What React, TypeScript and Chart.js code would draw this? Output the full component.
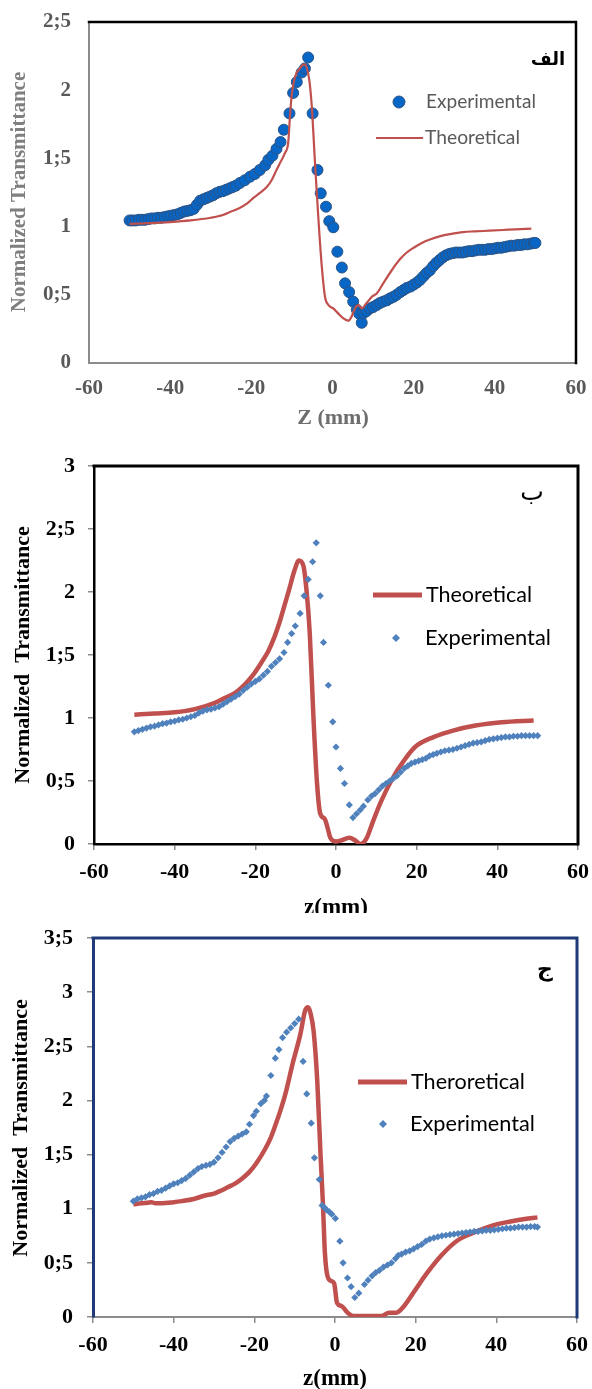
import React, { useEffect, useRef } from 'react';
import { Chart, registerables } from 'chart.js';

Chart.register(...registerables);

// ---------- Panel الف ----------
const A_EXP_Z = [-50, -49.3, -48.5, -47.7, -47, -46.2, -45.4, -44.6, -43.8, -43, -42.2, -41.4, -40.6, -39.8, -39, -38.2, -37.4, -36.6, -35.8, -35, -34.2, -33.4, -32.6, -31.8, -31, -30.2, -29.4, -28.6, -27.8, -27, -26.2, -25.4, -24.6, -23.8, -22.8, -21.6, -20.3, -19.1, -17.9, -16.6, -15.8, -14.8, -13.8, -12.8, -12.0, -10.6, -9.7, -8.8, -7.6, -6.8, -6.0, -4.9, -3.7, -2.9, -1.6, -0.8, 0.2, 1.2, 2.3, 3.1, 4.1, 5.1, 6.0, 6.6, 7.2, 7.6, 8.4, 9.2, 10.0, 10.9, 11.7, 12.5, 13.4, 14.2, 15.0, 15.8, 16.7, 17.5, 18.3, 19.2, 20, 20.8, 21.6, 22.4, 23.2, 24, 24.8, 25.6, 26.4, 27.2, 28, 28.8, 29.6, 30.4, 31.2, 32, 32.8, 33.6, 34.4, 35.2, 36, 36.8, 37.6, 38.4, 39.2, 40, 40.8, 41.6, 42.4, 43.2, 44, 44.8, 45.6, 46.4, 47.2, 48, 48.8, 49.6, 50];
const A_EXP_T = [1.045, 1.045, 1.045, 1.05, 1.05, 1.05, 1.055, 1.06, 1.06, 1.065, 1.065, 1.07, 1.075, 1.08, 1.085, 1.09, 1.10, 1.11, 1.115, 1.12, 1.13, 1.16, 1.19, 1.20, 1.21, 1.22, 1.23, 1.245, 1.255, 1.26, 1.27, 1.28, 1.29, 1.30, 1.32, 1.34, 1.366, 1.386, 1.415, 1.45, 1.49, 1.52, 1.57, 1.62, 1.71, 1.83, 1.98, 2.06, 2.13, 2.16, 2.24, 1.83, 1.415, 1.244, 1.146, 1.04, 0.995, 0.816, 0.70, 0.584, 0.52, 0.45, 0.39, 0.36, 0.295, 0.364, 0.38, 0.40, 0.41, 0.425, 0.44, 0.45, 0.46, 0.474, 0.485, 0.50, 0.52, 0.535, 0.55, 0.56, 0.575, 0.59, 0.61, 0.635, 0.66, 0.68, 0.71, 0.735, 0.755, 0.775, 0.79, 0.80, 0.805, 0.81, 0.81, 0.81, 0.815, 0.82, 0.82, 0.825, 0.83, 0.83, 0.83, 0.835, 0.835, 0.84, 0.845, 0.845, 0.85, 0.855, 0.86, 0.86, 0.865, 0.865, 0.87, 0.87, 0.875, 0.88, 0.88];
const A_THEO_Z = [-50, -45, -40, -35, -30, -27, -25, -23, -21, -19.5, -18, -16.2, -15, -13.8, -12.7, -11.7, -10.9, -10.5, -10.1, -9.2, -8.0, -7.0, -6.4, -5.7, -5.1, -4.3, -3.5, -2.7, -1.85, -1.0, 0.2, 1.4, 2.7, 3.9, 4.7, 5.5, 6.4, 7.2, 8.4, 9.7, 10.9, 12.5, 14.6, 16.6, 18.3, 20, 22, 24, 26.6, 29, 32.2, 35, 38.7, 42, 45, 49];
const A_THEO_T = [1.02, 1.025, 1.033, 1.045, 1.065, 1.085, 1.11, 1.135, 1.17, 1.21, 1.245, 1.29, 1.34, 1.415, 1.48, 1.54, 1.62, 1.80, 1.95, 2.10, 2.16, 2.19, 2.17, 2.07, 1.88, 1.46, 1.07, 0.73, 0.486, 0.425, 0.40, 0.364, 0.327, 0.31, 0.34, 0.40, 0.425, 0.40, 0.44, 0.486, 0.51, 0.584, 0.68, 0.76, 0.81, 0.845, 0.88, 0.905, 0.93, 0.945, 0.96, 0.965, 0.97, 0.975, 0.98, 0.985];

// ---------- Panel ب ----------
const B_EXP_Z = [-50, -49, -48, -47, -46, -45, -44, -43, -42, -41, -40, -39, -38, -37, -36, -35, -34, -33, -32, -31, -30, -29, -28, -27, -26, -25, -24, -23, -22, -21, -20, -19, -18, -17, -16, -15, -14, -12.9, -12, -11, -10.1, -8.9, -7.9, -6.9, -5.8, -4.9, -3.9, -3.1, -1.9, -0.8, 0, 1.1, 2.1, 3.3, 4.2, 5.1, 6, 6.8, 7.9, 8.8, 9.7, 10.6, 11.5, 12.4, 13.3, 14.2, 15.1, 16, 16.9, 17.8, 18.7, 19.6, 20.5, 21.4, 22.3, 23.2, 24.1, 25, 26, 27, 28, 29, 30, 31, 32, 33, 34, 35, 36, 37, 38, 39, 40, 41, 42, 43, 44, 45, 46, 47, 48, 49, 50];
const B_EXP_T = [0.89, 0.90, 0.91, 0.92, 0.93, 0.935, 0.945, 0.955, 0.96, 0.97, 0.975, 0.985, 0.99, 1.00, 1.01, 1.02, 1.04, 1.055, 1.065, 1.07, 1.08, 1.09, 1.11, 1.13, 1.15, 1.17, 1.19, 1.22, 1.245, 1.27, 1.29, 1.31, 1.34, 1.37, 1.41, 1.44, 1.47, 1.52, 1.60, 1.67, 1.73, 1.83, 1.97, 2.10, 2.24, 2.39, 1.97, 1.60, 1.26, 0.97, 0.77, 0.60, 0.48, 0.31, 0.21, 0.24, 0.27, 0.30, 0.35, 0.38, 0.40, 0.43, 0.46, 0.48, 0.50, 0.52, 0.54, 0.57, 0.60, 0.62, 0.64, 0.65, 0.66, 0.67, 0.68, 0.70, 0.71, 0.72, 0.73, 0.74, 0.745, 0.75, 0.76, 0.77, 0.78, 0.79, 0.80, 0.805, 0.81, 0.82, 0.83, 0.835, 0.84, 0.845, 0.85, 0.85, 0.855, 0.855, 0.86, 0.86, 0.86, 0.86, 0.86];
const B_THEO_Z = [-50, -45, -40, -35, -30, -27.5, -25, -22.5, -20.6, -18.5, -16.8, -15.3, -14, -12.8, -11.7, -10.3, -9.2, -8.1, -7.3, -6.5, -5.6, -4.7, -3.9, -2.8, -2.1, -1.4, 0, 1.4, 3.3, 4.7, 6.1, 7.5, 9.3, 11.2, 14, 16.8, 19.6, 24.3, 29, 34.6, 41.1, 49];
const B_THEO_T = [1.026, 1.035, 1.045, 1.07, 1.12, 1.16, 1.20, 1.27, 1.34, 1.44, 1.53, 1.64, 1.76, 1.89, 2.01, 2.17, 2.25, 2.21, 2.01, 1.67, 1.01, 0.48, 0.24, 0.20, 0.13, 0.05, 0.02, 0.03, 0.05, 0.03, 0.0, 0.04, 0.19, 0.34, 0.52, 0.66, 0.77, 0.85, 0.90, 0.94, 0.966, 0.98];

// ---------- Panel ج ----------
const C_EXP_Z = [-50, -49, -48, -47, -46, -45, -44, -43, -42, -41, -40, -39, -38, -37, -36, -35, -34, -33, -32, -31, -30, -29, -28, -27, -26, -25, -24, -23, -22, -21.2, -20.2, -19.5, -18.4, -17.5, -17, -15.9, -14.8, -13.9, -13, -12, -11, -10, -9, -7.9, -7, -5.9, -5.1, -3.9, -3.2, -2.6, -2.1, -1.4, -0.8, 0.1, 1.2, 2, 3.1, 4, 4.9, 5.9, 7.3, 8.2, 9.2, 10.1, 11, 12, 13, 14, 15, 15.7, 16.5, 17.5, 18.5, 19.5, 20.5, 21.5, 22.5, 23.5, 24.5, 25.5, 26.5, 27.5, 28.5, 29.5, 30.5, 31.5, 32.5, 33.5, 34.5, 35.5, 36.5, 37.5, 38.5, 39.5, 40.5, 41.5, 42.5, 43.5, 44.5, 45.5, 46.5, 47.5, 48.5, 49.5, 50.2];
const C_EXP_T = [1.07, 1.09, 1.10, 1.11, 1.13, 1.14, 1.16, 1.17, 1.19, 1.21, 1.23, 1.24, 1.26, 1.28, 1.31, 1.34, 1.37, 1.39, 1.40, 1.41, 1.43, 1.47, 1.52, 1.57, 1.62, 1.65, 1.67, 1.69, 1.71, 1.78, 1.86, 1.90, 1.97, 2.00, 2.04, 2.23, 2.39, 2.47, 2.58, 2.63, 2.67, 2.71, 2.75, 2.36, 2.06, 1.79, 1.47, 1.27, 1.03, 1.01, 0.99, 0.97, 0.95, 0.91, 0.70, 0.50, 0.36, 0.28, 0.18, 0.22, 0.30, 0.34, 0.38, 0.41, 0.43, 0.46, 0.48, 0.50, 0.54, 0.57, 0.58, 0.60, 0.61, 0.63, 0.65, 0.67, 0.70, 0.72, 0.73, 0.74, 0.75, 0.755, 0.76, 0.765, 0.77, 0.775, 0.78, 0.785, 0.79, 0.79, 0.795, 0.80, 0.80, 0.805, 0.81, 0.815, 0.82, 0.82, 0.825, 0.83, 0.83, 0.83, 0.835, 0.835, 0.83];
const C_THEO_Z = [-50, -48, -46.5, -45.5, -44.5, -43, -40, -38, -35, -32.4, -30, -28.7, -26.5, -24.9, -23, -21.2, -19.5, -17.5, -16, -14.7, -13.5, -12.3, -10.5, -8.6, -7.4, -6.7, -6.1, -5.3, -4.4, -3.6, -3.0, -2.5, -1.8, -0.8, -0.2, 0.5, 1.7, 3.1, 4.5, 6.8, 9.6, 11.5, 13.4, 15.2, 17.1, 19.9, 22.7, 26.4, 30.1, 33.8, 38.6, 43.2, 47.9, 50.2];
const C_THEO_T = [1.04, 1.05, 1.055, 1.06, 1.05, 1.05, 1.06, 1.07, 1.09, 1.12, 1.14, 1.16, 1.20, 1.23, 1.28, 1.34, 1.42, 1.54, 1.65, 1.78, 1.91, 2.06, 2.34, 2.61, 2.83, 2.86, 2.81, 2.64, 2.18, 1.51, 1.05, 0.59, 0.37, 0.33, 0.31, 0.13, 0.10, 0.04, 0.01, 0.01, 0.01, 0.01, 0.04, 0.04, 0.10, 0.25, 0.40, 0.57, 0.70, 0.77, 0.84, 0.88, 0.91, 0.92];

// ---------- styling / layout ----------
const SERIF = '"Liberation Serif", "Times New Roman", serif';
const SANS = 'Lato, "Liberation Sans", sans-serif';
const ARABIC = '"DejaVu Sans", sans-serif';
const RED = '#C0504D';
const BLUE_D = '#4F81BD';

const fmt = (v: any) => String(v).replace('.', ';');
const pts = (zs: number[], ts: number[]) => zs.map((z, i) => ({ x: z, y: ts[i] }));

function fitSize(ctx: CanvasRenderingContext2D, text: string, weight: string, family: string, target: number) {
  ctx.font = `${weight} 100px ${family}`;
  return (100 * target) / ctx.measureText(text).width;
}

const zeroPad = (s: any) => {
  s.paddingTop = 0;
  s.paddingBottom = 0;
  s.paddingLeft = 0;
  s.paddingRight = 0;
};

const decoPlugin = {
  id: 'deco',
  afterDraw(chart: any, _a: any, o: any) {
    const { ctx, chartArea: a } = chart;
    ctx.save();
    // top & right frame
    ctx.strokeStyle = o.box.color;
    ctx.lineWidth = o.box.width;
    ctx.lineCap = 'square';
    ctx.beginPath();
    ctx.moveTo(a.left, a.top);
    ctx.lineTo(a.right, a.top);
    ctx.lineTo(a.right, a.bottom);
    ctx.stroke();
    // y title
    ctx.fillStyle = o.yTitle.color;
    ctx.font = o.yTitle.font;
    ctx.textAlign = 'center';
    ctx.textBaseline = 'middle';
    ctx.save();
    ctx.translate(o.yTitle.x, o.yTitle.y);
    ctx.rotate(-Math.PI / 2);
    ctx.fillText(o.yTitle.text, 0, 0);
    ctx.restore();
    // x title
    ctx.fillStyle = o.xTitle.color;
    ctx.font = o.xTitle.font;
    ctx.fillText(o.xTitle.text, o.xTitle.x, o.xTitle.y);
    // legend
    for (const it of o.legend) {
      if (it.kind === 'line') {
        ctx.strokeStyle = it.color;
        ctx.lineWidth = it.lw;
        ctx.lineCap = 'butt';
        ctx.beginPath();
        ctx.moveTo(it.mx, it.my);
        ctx.lineTo(it.mx2, it.my);
        ctx.stroke();
      } else if (it.kind === 'dot') {
        ctx.fillStyle = it.color;
        ctx.strokeStyle = it.edge;
        ctx.lineWidth = 1;
        ctx.beginPath();
        ctx.arc(it.mx, it.my, it.r, 0, Math.PI * 2);
        ctx.fill();
        ctx.stroke();
      } else {
        ctx.fillStyle = it.color;
        ctx.beginPath();
        ctx.moveTo(it.mx, it.my - it.r);
        ctx.lineTo(it.mx + it.r, it.my);
        ctx.lineTo(it.mx, it.my + it.r);
        ctx.lineTo(it.mx - it.r, it.my);
        ctx.closePath();
        ctx.fill();
      }
      const size = fitSize(ctx, it.text, 'normal', SANS, it.tw);
      ctx.font = `normal ${size}px ${SANS}`;
      ctx.fillStyle = o.legendColor;
      ctx.textAlign = 'left';
      ctx.textBaseline = 'middle';
      ctx.fillText(it.text, it.tx, it.my);
    }
    // panel tag
    ctx.fillStyle = '#000';
    ctx.font = o.tag.font;
    ctx.textAlign = 'center';
    ctx.textBaseline = 'middle';
    ctx.fillText(o.tag.text, o.tag.x, o.tag.y);
    ctx.restore();
  },
};

type PanelCfg = {
  top: number;
  height: number;
  area: { left: number; right: number; top: number; bottom: number };
  yMax: number;
  tickColor: string;
  tickFont: number;
  yPad: number;
  xPad: number;
  drawTicks: boolean;
  axisX: { color: string; width: number };
  axisY: { color: string; width: number };
  box: { color: string; width: number };
  datasets: any[];
  yTitle: any;
  xTitle: any;
  legend: any[];
  legendColor: string;
  tag: any;
};

function Panel({ cfg }: { cfg: PanelCfg }) {
  const ref = useRef<HTMLCanvasElement>(null);
  useEffect(() => {
    const off = cfg.top;
    const A = cfg.area;
    const sh = (p: any) => ({ ...p, y: p.y - off });
    const chart = new Chart(ref.current as HTMLCanvasElement, {
      type: 'scatter',
      data: { datasets: cfg.datasets },
      options: {
        animation: false,
        responsive: false,
        devicePixelRatio: 1,
        layout: { autoPadding: false, padding: { top: A.top - off, right: 592 - A.right, left: 0, bottom: 0 } },
        plugins: {
          legend: { display: false },
          tooltip: { enabled: false },
          deco: {
            box: cfg.box,
            yTitle: sh(cfg.yTitle),
            xTitle: sh(cfg.xTitle),
            legend: cfg.legend.map((l) => ({ ...l, my: l.my - off })),
            legendColor: cfg.legendColor,
            tag: sh(cfg.tag),
          },
        } as any,
        scales: {
          x: {
            type: 'linear',
            min: -60,
            max: 60,
            afterFit: (s: any) => {
              s.height = off + cfg.height - A.bottom;
              zeroPad(s);
            },
            ticks: {
              stepSize: 20,
              maxRotation: 0,
              autoSkip: false,
              padding: cfg.xPad,
              color: cfg.tickColor,
              font: { family: SERIF, size: cfg.tickFont, weight: 'bold' },
            },
            grid: { display: true, drawOnChartArea: false, drawTicks: cfg.drawTicks, tickLength: 6, color: '#8C8C8C', lineWidth: 1.5 },
            border: { display: true, color: cfg.axisX.color, width: cfg.axisX.width },
          },
          y: {
            type: 'linear',
            min: 0,
            max: cfg.yMax,
            afterFit: (s: any) => {
              s.width = A.left;
              zeroPad(s);
            },
            ticks: {
              stepSize: 0.5,
              padding: cfg.yPad,
              color: cfg.tickColor,
              font: { family: SERIF, size: cfg.tickFont, weight: 'bold' },
              callback: (v: any) => fmt(v),
            },
            grid: { display: true, drawOnChartArea: false, drawTicks: cfg.drawTicks, tickLength: 6, color: '#8C8C8C', lineWidth: 1.5 },
            border: { display: true, color: cfg.axisY.color, width: cfg.axisY.width },
          },
        },
      } as any,
      plugins: [decoPlugin as any],
    });
    return () => chart.destroy();
  }, []);
  return (
    <canvas
      ref={ref}
      width={592}
      height={cfg.height}
      style={{ position: 'absolute', left: 0, top: cfg.top, width: 592, height: cfg.height, display: 'block' }}
    />
  );
}

const expDiamond = (data: any) => ({
  label: 'Experimental',
  data,
  showLine: false,
  pointStyle: 'rectRot',
  pointRadius: 3.6,
  pointBackgroundColor: BLUE_D,
  pointBorderColor: BLUE_D,
  pointBorderWidth: 0,
  order: 0,
});
const theoLine = (label: string, data: any, w: number, order: number) => ({
  label,
  data,
  showLine: true,
  borderColor: RED,
  borderWidth: w,
  pointRadius: 0,
  cubicInterpolationMode: 'monotone',
  fill: false,
  order,
});

const PANELS: PanelCfg[] = [
  {
    top: 0,
    height: 445,
    area: { left: 89, right: 576, top: 22, bottom: 363 },
    yMax: 2.5,
    tickColor: '#595959',
    tickFont: 21,
    yPad: 18,
    xPad: 13,
    drawTicks: false,
    axisX: { color: '#8C8C8C', width: 2 },
    axisY: { color: '#8C8C8C', width: 2 },
    box: { color: '#000', width: 2.5 },
    datasets: [
      theoLine('Theoretical', pts(A_THEO_Z, A_THEO_T), 2.2, 0),
      {
        label: 'Experimental',
        data: pts(A_EXP_Z, A_EXP_T),
        showLine: false,
        pointStyle: 'circle',
        pointRadius: 5.5,
        pointBackgroundColor: '#0866C6',
        pointBorderColor: '#2B5283',
        pointBorderWidth: 1,
        order: 1,
      },
    ],
    yTitle: { text: 'Normalized Transmittance', x: 20, y: 192, font: `bold 21px ${SERIF}`, color: '#7F7F7F' },
    xTitle: { text: 'Z (mm)', x: 333, y: 418, font: `bold 22px ${SERIF}`, color: '#6E6E6E' },
    legend: [
      { kind: 'dot', mx: 399, my: 102, r: 6, color: '#0866C6', edge: '#2B5283', tx: 426, tw: 110, text: 'Experimental' },
      { kind: 'line', mx: 376, mx2: 423, my: 138, lw: 2, color: RED, tx: 425, tw: 95, text: 'Theoretical' },
    ],
    legendColor: '#595959',
    tag: { text: 'الف', x: 548, y: 60, font: `bold 18px ${ARABIC}` },
  },
  {
    top: 445,
    height: 468,
    area: { left: 94, right: 578, top: 466, bottom: 844 },
    yMax: 3,
    tickColor: '#000',
    tickFont: 22,
    yPad: 13,
    xPad: 9,
    drawTicks: true,
    axisX: { color: '#000', width: 2.5 },
    axisY: { color: '#000', width: 2.5 },
    box: { color: '#000', width: 3 },
    datasets: [expDiamond(pts(B_EXP_Z, B_EXP_T)), theoLine('Theoretical', pts(B_THEO_Z, B_THEO_T), 4.5, 1)],
    yTitle: { text: 'Normalized  Transmittance', x: 23, y: 655, font: `bold 22px ${SERIF}`, color: '#000' },
    xTitle: { text: 'z(mm)', x: 336, y: 908, font: `bold 23px ${SERIF}`, color: '#000' },
    legend: [
      { kind: 'line', mx: 373, mx2: 422, my: 595, lw: 5, color: RED, tx: 426, tw: 106, text: 'Theoretical' },
      { kind: 'diamond', mx: 396, my: 638, r: 4, color: BLUE_D, tx: 425, tw: 126, text: 'Experimental' },
    ],
    legendColor: '#000',
    tag: { text: 'ب', x: 532, y: 493, font: `normal 25px ${ARABIC}` },
  },
  {
    top: 913,
    height: 476,
    area: { left: 93, right: 577, top: 938, bottom: 1317 },
    yMax: 3.5,
    tickColor: '#000',
    tickFont: 22,
    yPad: 14,
    xPad: 9,
    drawTicks: true,
    axisX: { color: '#8C8C8C', width: 2 },
    axisY: { color: '#1F3A78', width: 3 },
    box: { color: '#1F3A78', width: 3 },
    datasets: [expDiamond(pts(C_EXP_Z, C_EXP_T)), theoLine('Theroretical', pts(C_THEO_Z, C_THEO_T), 4.5, 1)],
    yTitle: { text: 'Normalized  Transmittance', x: 21, y: 1128, font: `bold 22px ${SERIF}`, color: '#000' },
    xTitle: { text: 'z(mm)', x: 335, y: 1379, font: `bold 23px ${SERIF}`, color: '#000' },
    legend: [
      { kind: 'line', mx: 358, mx2: 407, my: 1082, lw: 5, color: RED, tx: 411, tw: 114, text: 'Theroretical' },
      { kind: 'diamond', mx: 383, my: 1124, r: 4, color: BLUE_D, tx: 410, tw: 125, text: 'Experimental' },
    ],
    legendColor: '#000',
    tag: { text: 'ج', x: 545, y: 970, font: `bold 22px ${ARABIC}` },
  },
];

export default function App() {
  return (
    <div>
      {PANELS.map((p, i) => (
        <Panel key={i} cfg={p} />
      ))}
    </div>
  );
}
